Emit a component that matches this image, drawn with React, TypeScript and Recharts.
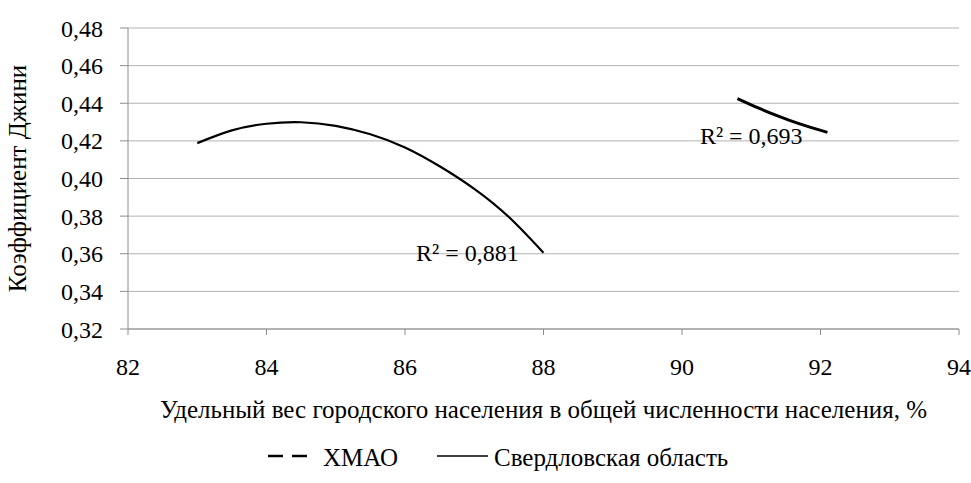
import { CartesianGrid, Line, LineChart, ReferenceDot, XAxis, YAxis } from "recharts"

// trend curve for Sverdlovsk region
const sverdlovsk = [
  { x: 83.0, y: 0.4188 },
  { x: 83.5, y: 0.4256 },
  { x: 84.0, y: 0.4291 },
  { x: 84.5, y: 0.4299 },
  { x: 85.0, y: 0.428 },
  { x: 85.5, y: 0.4235 },
  { x: 86.0, y: 0.4165 },
  { x: 86.5, y: 0.4065 },
  { x: 87.0, y: 0.3945 },
  { x: 87.5, y: 0.3795 },
  { x: 88.0, y: 0.3605 },
]

// trend curve for KhMAO
const khmao = [
  { x: 90.8, y: 0.4425 },
  { x: 91.1, y: 0.4375 },
  { x: 91.4, y: 0.433 },
  { x: 91.7, y: 0.429 },
  { x: 92.1, y: 0.4245 },
]

const xTicks = [82, 84, 86, 88, 90, 92, 94]
const yTicks = [0.32, 0.34, 0.36, 0.38, 0.4, 0.42, 0.44, 0.46, 0.48]

const font = "'Liberation Serif', 'Times New Roman', serif"
const fmt = (v: number) => v.toFixed(2).replace(".", ",")

export default function App() {
  return (
    <div style={{ position: "absolute", left: 0, top: 0, width: 971, height: 483, background: "#fff", fontFamily: font }}>
      <style>{`.chart text, .legend { font-family: ${font} !important; }`}</style>
      <div className="chart">
        <LineChart width={971} height={483} margin={{ top: 28, right: 12, left: 0, bottom: 0 }}>
          <CartesianGrid vertical={false} stroke="#b3b3b3" />
          <XAxis
            type="number"
            dataKey="x"
            domain={[82, 94]}
            ticks={xTicks}
            height={154}
            stroke="#8c8c8c"
            tickSize={6}
            tickMargin={23}
            tick={{ fill: "#000", fontSize: 24 }}
            label={{
              value: "Удельный вес городского населения в общей численности населения, %",
              position: "insideBottom",
              offset: 65,
              fill: "#000",
              fontSize: 25,
            }}
          />
          <YAxis
            type="number"
            domain={[0.32, 0.48]}
            ticks={yTicks}
            width={128}
            stroke="#8c8c8c"
            tickSize={8}
            tickMargin={17}
            tickFormatter={fmt}
            tick={{ fill: "#000", fontSize: 24 }}
            label={{
              value: "Коэффициент Джини",
              angle: -90,
              position: "insideLeft",
              offset: 17,
              style: { textAnchor: "middle" },
              fill: "#000",
              fontSize: 25,
            }}
          />
          <Line
            data={sverdlovsk}
            dataKey="y"
            type="natural"
            stroke="#000"
            strokeWidth={2.2}
            dot={false}
            isAnimationActive={false}
          />
          <Line
            data={khmao}
            dataKey="y"
            type="natural"
            stroke="#000"
            strokeWidth={3}
            dot={false}
            isAnimationActive={false}
          />
          <ReferenceDot
            x={86.9}
            y={0.3605}
            r={0}
            label={{ value: "R² = 0,881", position: "center", fill: "#000", fontSize: 24 }}
          />
          <ReferenceDot
            x={91.0}
            y={0.4228}
            r={0}
            label={{ value: "R² = 0,693", position: "center", fill: "#000", fontSize: 24 }}
          />
        </LineChart>
      </div>
      <div className="legend" style={{ position: "absolute", top: 0, left: 0, fontSize: 25, color: "#000", lineHeight: "28px" }}>
        <svg width={44} height={6} style={{ position: "absolute", left: 268, top: 453 }}>
          <line x1={0} y1={3} x2={44} y2={3} stroke="#000" strokeWidth={2.5} strokeDasharray="15 9" />
        </svg>
        <span style={{ position: "absolute", left: 323, top: 444, whiteSpace: "nowrap" }}>ХМАО</span>
        <svg width={51} height={6} style={{ position: "absolute", left: 437, top: 453 }}>
          <line x1={0} y1={3} x2={51} y2={3} stroke="#000" strokeWidth={1.5} />
        </svg>
        <span style={{ position: "absolute", left: 494, top: 444, whiteSpace: "nowrap" }}>Свердловская область</span>
      </div>
    </div>
  )
}
